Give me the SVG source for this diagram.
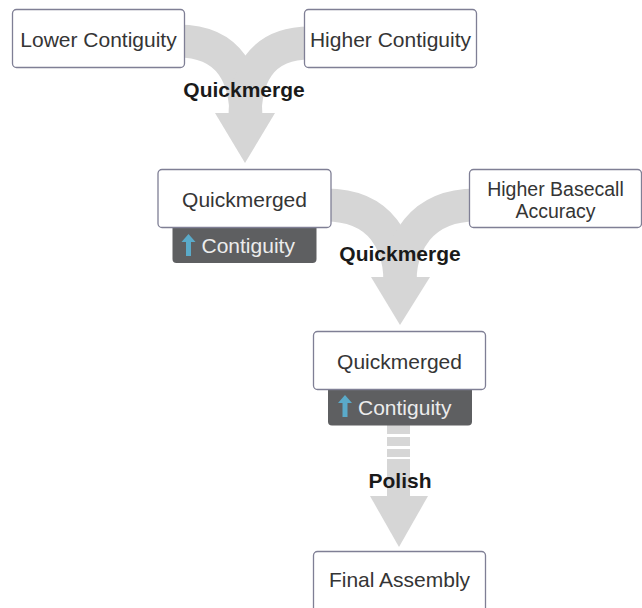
<svg xmlns="http://www.w3.org/2000/svg" width="642" height="608" viewBox="0 0 642 608">
<style>
.box{fill:#ffffff;stroke:#7f7f95;stroke-width:1.3}
.tag{fill:#5e5f61}
.t{font-family:"Liberation Sans",Arial,sans-serif;font-size:21px;fill:#353535;text-anchor:middle}
.t2{font-family:"Liberation Sans",Arial,sans-serif;font-size:19.5px;fill:#353535;text-anchor:middle}
.tt{font-family:"Liberation Sans",Arial,sans-serif;font-size:21px;fill:#ececec}
.lbl{font-family:"Liberation Sans",Arial,sans-serif;font-size:21px;font-weight:bold;fill:#1a1a1a;text-anchor:middle}
.band{fill:none;stroke:#d6d6d6;stroke-width:33}
.head{fill:#d6d6d6}
.up{fill:#5aaac9}
</style>
<rect width="642" height="608" fill="#ffffff"/>
<g id="connectors">
  <path class="band" d="M178,41 C232,41 246,80 246,118"/>
  <path class="band" d="M310,43 C258,43 245,80 245,118"/>
  <polygon class="head" points="215,113 275,113 245,163"/>
  <path class="band" d="M326,205 C382,205 400,245 400,282"/>
  <path class="band" d="M476,205 C420,205 400,245 400,282"/>
  <polygon class="head" points="371,277 430,277 400,325"/>
  <rect class="head" x="387" y="420" width="23" height="14"/>
  <rect class="head" x="387" y="437" width="23" height="9"/>
  <rect class="head" x="387" y="449" width="23" height="8"/>
  <rect class="head" x="387" y="459" width="23" height="40"/>
  <polygon class="head" points="370,496 428,496 399,547"/>
</g>
<g id="label-quickmerge-1"><text class="lbl" x="244" y="97">Quickmerge</text></g>
<g id="label-quickmerge-2"><text class="lbl" x="400" y="261">Quickmerge</text></g>
<g id="label-polish"><text class="lbl" x="400" y="488">Polish</text></g>
<g id="node-lower-contiguity">
  <rect class="box" x="12.5" y="9.5" width="172" height="58" rx="4"/>
  <text class="t" x="98.5" y="47">Lower Contiguity</text>
</g>
<g id="node-higher-contiguity">
  <rect class="box" x="304.5" y="9.5" width="172" height="58" rx="4"/>
  <text class="t" x="390.5" y="47">Higher Contiguity</text>
</g>
<g id="node-quickmerged-1">
  <rect class="tag" x="172.5" y="220" width="144" height="43" rx="4"/>
  <path class="up" d="M188.5,234 L195.5,242 L191,242 L191,256 L186,256 L186,242 L181.5,242 Z"/>
  <text class="tt" x="201.5" y="253">Contiguity</text>
  <rect class="box" x="158" y="169.5" width="173" height="58" rx="4"/>
  <text class="t" x="244.5" y="207">Quickmerged</text>
</g>
<g id="node-higher-basecall-accuracy">
  <rect class="box" x="469.5" y="169.5" width="172" height="58" rx="4"/>
  <text class="t2" x="555.5" y="195.5">Higher Basecall</text>
  <text class="t2" x="555.5" y="218">Accuracy</text>
</g>
<g id="node-quickmerged-2">
  <rect class="tag" x="328" y="382" width="144" height="43.5" rx="4"/>
  <path class="up" d="M345,395 L352,403 L347.5,403 L347.5,417 L342.5,417 L342.5,403 L338,403 Z"/>
  <text class="tt" x="358" y="414.5">Contiguity</text>
  <rect class="box" x="313.5" y="331.5" width="172" height="58" rx="4"/>
  <text class="t" x="399.5" y="369">Quickmerged</text>
</g>
<g id="node-final-assembly">
  <rect class="box" x="313.5" y="551.5" width="172" height="62" rx="4"/>
  <text class="t" x="399.5" y="587">Final Assembly</text>
</g>
</svg>
